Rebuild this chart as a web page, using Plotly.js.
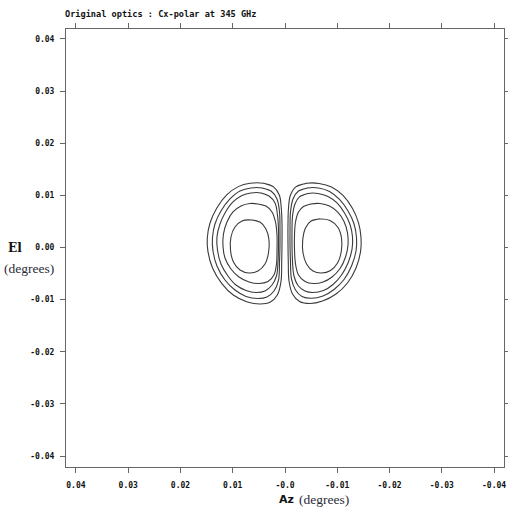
<!DOCTYPE html>
<html>
<head>
<meta charset="utf-8">
<script src="https://cdn.plot.ly/plotly-3.0.1.min.js"></script>
<style>
  html, body { margin: 0; padding: 0; background: #fff; }
  #chart { width: 508px; height: 510px; }
</style>
</head>
<body>
<div id="chart"></div>
<script>
// Cross-polar beam contours, Az/El in degrees.
// Positive-Az lobe (left side of the reversed Az axis), outermost to innermost.
const posLobe1Az = [0.00415,0.00224,0.00109,0.00071,0.00057,0.00057,0.00063,0.00077,0.00147,0.00287,0.00479,0.00733,0.00990,0.01212,0.01384,0.01474,0.01487,0.01436,0.01307,0.01116,0.00894,0.00670];
const posLobe1El = [0.01232,0.01167,0.01007,0.00752,0.00432,0.00111,-0.00272,-0.00656,-0.00912,-0.01052,-0.01084,-0.01040,-0.00912,-0.00687,-0.00399,-0.00081,0.00177,0.00464,0.00752,0.01007,0.01167,0.01232];

const posLobe2Az = [0.00440,0.00268,0.00153,0.00105,0.00096,0.00096,0.00105,0.00124,0.00211,0.00345,0.00517,0.00746,0.00957,0.01148,0.01302,0.01378,0.01388,0.01340,0.01225,0.01053,0.00861,0.00651];
const posLobe2El = [0.01142,0.01084,0.00931,0.00681,0.00374,0.00048,-0.00278,-0.00624,-0.00835,-0.00950,-0.00979,-0.00940,-0.00816,-0.00624,-0.00355,-0.00067,0.00182,0.00451,0.00700,0.00931,0.01084,0.01142];

const posLobe3Az = [0.00459,0.00306,0.00191,0.00144,0.00124,0.00124,0.00134,0.00163,0.00249,0.00383,0.00555,0.00746,0.00938,0.01091,0.01225,0.01292,0.01302,0.01244,0.01148,0.00995,0.00823,0.00651];
const posLobe3El = [0.01046,0.00988,0.00854,0.00624,0.00336,0.00029,-0.00278,-0.00547,-0.00720,-0.00835,-0.00864,-0.00825,-0.00720,-0.00547,-0.00317,-0.00048,0.00201,0.00451,0.00662,0.00873,0.00998,0.01046];

const posLobe4Az = [0.00517,0.00364,0.00249,0.00182,0.00153,0.00153,0.00163,0.00211,0.00325,0.00498,0.00689,0.00880,0.01034,0.01148,0.01187,0.01177,0.01110,0.00995,0.00842,0.00670];
const posLobe4El = [0.00835,0.00796,0.00681,0.00489,0.00240,-0.00048,-0.00317,-0.00528,-0.00652,-0.00691,-0.00662,-0.00566,-0.00413,-0.00201,0.00029,0.00259,0.00489,0.00681,0.00796,0.00844];

const posLobe5Az = [0.00651,0.00479,0.00364,0.00306,0.00316,0.00383,0.00517,0.00689,0.00861,0.00986,0.01043,0.01034,0.00957,0.00823];
const posLobe5El = [0.00528,0.00489,0.00355,0.00144,-0.00106,-0.00317,-0.00451,-0.00489,-0.00432,-0.00278,-0.00048,0.00201,0.00393,0.00509];

// Negative-Az lobe (right side), outermost to innermost.
const negLobe1Az = [-0.00421,-0.00220,-0.00105,-0.00067,-0.00057,-0.00057,-0.00063,-0.00077,-0.00144,-0.00278,-0.00479,-0.00718,-0.00976,-0.01196,-0.01359,-0.01445,-0.01455,-0.01407,-0.01292,-0.01110,-0.00890,-0.00651];
const negLobe1El = [0.01232,0.01171,0.01007,0.00758,0.00432,0.00106,-0.00278,-0.00643,-0.00892,-0.01036,-0.01075,-0.01027,-0.00892,-0.00681,-0.00393,-0.00086,0.00182,0.00470,0.00748,0.00998,0.01161,0.01228];

const negLobe2Az = [-0.00431,-0.00258,-0.00153,-0.00105,-0.00096,-0.00096,-0.00105,-0.00124,-0.00201,-0.00325,-0.00498,-0.00727,-0.00938,-0.01129,-0.01273,-0.01359,-0.01369,-0.01321,-0.01206,-0.01043,-0.00852,-0.00641];
const negLobe2El = [0.01142,0.01084,0.00931,0.00681,0.00374,0.00048,-0.00278,-0.00604,-0.00816,-0.00940,-0.00975,-0.00931,-0.00806,-0.00614,-0.00355,-0.00067,0.00182,0.00451,0.00700,0.00921,0.01075,0.01142];

const negLobe3Az = [-0.00440,-0.00287,-0.00191,-0.00144,-0.00134,-0.00134,-0.00144,-0.00172,-0.00249,-0.00383,-0.00536,-0.00737,-0.00919,-0.01081,-0.01206,-0.01282,-0.01292,-0.01244,-0.01139,-0.00995,-0.00823,-0.00632];
const negLobe3El = [0.01036,0.00979,0.00835,0.00604,0.00317,0.00029,-0.00278,-0.00547,-0.00729,-0.00835,-0.00864,-0.00825,-0.00710,-0.00528,-0.00297,-0.00038,0.00201,0.00441,0.00662,0.00854,0.00979,0.01036];

const negLobe4Az = [-0.00498,-0.00354,-0.00258,-0.00201,-0.00182,-0.00182,-0.00201,-0.00258,-0.00383,-0.00545,-0.00727,-0.00900,-0.01053,-0.01158,-0.01206,-0.01196,-0.01129,-0.01005,-0.00852,-0.00670];
const negLobe4El = [0.00835,0.00787,0.00681,0.00489,0.00240,-0.00048,-0.00317,-0.00528,-0.00652,-0.00691,-0.00662,-0.00566,-0.00403,-0.00182,0.00048,0.00278,0.00499,0.00681,0.00796,0.00844];

const negLobe5Az = [-0.00670,-0.00498,-0.00392,-0.00339,-0.00345,-0.00412,-0.00536,-0.00699,-0.00871,-0.01005,-0.01078,-0.01081,-0.01014,-0.00861];
const negLobe5El = [0.00547,0.00509,0.00374,0.00144,-0.00106,-0.00317,-0.00451,-0.00489,-0.00441,-0.00297,-0.00067,0.00182,0.00384,0.00518];

// Axis ticks and their printed labels.
const azTickVals = [0.04, 0.03, 0.02, 0.01, 0.0, -0.01, -0.02, -0.03, -0.04];
const azTickText = ["0.04", "0.03", "0.02", "0.01", "-0.0", "-0.01", "-0.02", "-0.03", "-0.04"];
const elTickVals = [0.04, 0.03, 0.02, 0.01, 0.0, -0.01, -0.02, -0.03, -0.04];
const elTickText = ["0.04", "0.03", "0.02", "0.01", "0.00", "-0.01", "-0.02", "-0.03", "-0.04"];

const contours = [
  [posLobe1Az, posLobe1El], [posLobe2Az, posLobe2El], [posLobe3Az, posLobe3El],
  [posLobe4Az, posLobe4El], [posLobe5Az, posLobe5El],
  [negLobe1Az, negLobe1El], [negLobe2Az, negLobe2El], [negLobe3Az, negLobe3El],
  [negLobe4Az, negLobe4El], [negLobe5Az, negLobe5El]
];

// Each contour is a closed ring: repeat its first vertices at the end.
const traces = contours.map(([az, el]) => ({
  type: 'scatter',
  mode: 'lines',
  x: az.concat([az[0], az[1]]),
  y: el.concat([el[0], el[1]]),
  line: { color: '#3a3a3a', width: 1.1, shape: 'spline', smoothing: 1 },
  hoverinfo: 'skip',
  showlegend: false
}));

const tickFont = { family: 'DejaVu Sans Mono', size: 8, color: '#111', weight: 'bold' };
const axisCommon = {
  showgrid: false,
  zeroline: false,
  showline: true,
  linecolor: '#666',
  linewidth: 1,
  mirror: 'ticks',
  ticks: 'outside',
  ticklen: 5,
  tickwidth: 1,
  tickcolor: '#666',
  tickmode: 'array',
  tickfont: tickFont,
  fixedrange: true
};

const layout = {
  width: 508,
  height: 510,
  margin: { l: 66, r: 4, t: 29, b: 43 },
  paper_bgcolor: '#fff',
  plot_bgcolor: '#fff',
  showlegend: false,
  hovermode: false,
  title: {
    text: 'Original optics : Cx-polar at 345 GHz',
    font: { family: 'DejaVu Sans Mono', size: 8.6, color: '#111', weight: 'bold' },
    x: 65 / 508, xanchor: 'left', xref: 'container',
    y: 1 - 14 / 510, yanchor: 'middle', yref: 'container'
  },
  xaxis: Object.assign({}, axisCommon, {
    range: [0.0419, -0.0419],
    tickvals: azTickVals,
    ticktext: azTickText,
    ticklabelstandoff: 5
  }),
  yaxis: Object.assign({}, axisCommon, {
    range: [-0.0421, 0.0419],
    tickvals: elTickVals,
    ticktext: elTickText,
    ticklabelstandoff: 4
  }),
  annotations: [
    {
      text: '<b>Az</b>',
      xref: 'paper', yref: 'paper', x: (277 - 66) / 438, y: (467 - 499) / 438,
      xanchor: 'left', yanchor: 'middle', showarrow: false,
      font: { family: 'DejaVu Sans', size: 11, color: '#111' }
    },
    {
      text: '(degrees)',
      xref: 'paper', yref: 'paper', x: (297 - 66) / 438, y: (467 - 499) / 438,
      xanchor: 'left', yanchor: 'middle', showarrow: false,
      font: { family: 'Liberation Serif', size: 13.5, color: '#2b2b3a' }
    },
    {
      text: '<b>El</b>',
      xref: 'paper', yref: 'paper', x: (15 - 66) / 438, y: (467 - 248) / 438,
      xanchor: 'center', yanchor: 'middle', showarrow: false,
      font: { family: 'DejaVu Serif', size: 12, color: '#111' }
    },
    {
      text: '(degrees)',
      xref: 'paper', yref: 'paper', x: (29 - 66) / 438, y: (467 - 268) / 438,
      xanchor: 'center', yanchor: 'middle', showarrow: false,
      font: { family: 'Liberation Serif', size: 13.5, color: '#2b2b3a' }
    }
  ]
};

Plotly.newPlot('chart', traces, layout, { displayModeBar: false, staticPlot: true });
</script>
</body>
</html>
